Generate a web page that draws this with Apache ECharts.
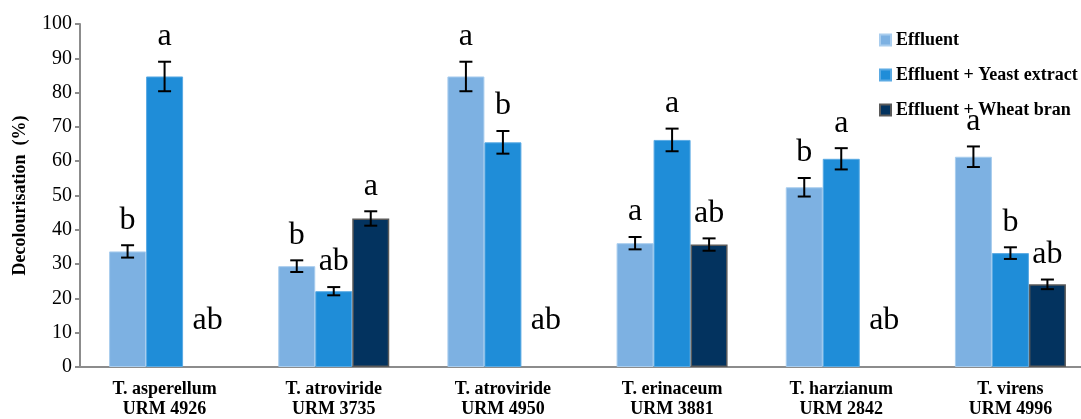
<!DOCTYPE html>
<html>
<head>
<meta charset="utf-8">
<script src="https://cdn.jsdelivr.net/npm/echarts@6/dist/echarts.min.js"></script>
<style>
  html, body { margin: 0; padding: 0; background: #fff; overflow: hidden; width: 1081px; height: 419px; }
  #chart { width: 1095px; height: 419px; }
</style>
</head>
<body>
<div id="chart"></div>
<script>
const categories = ['T. asperellum\nURM 4926', 'T. atroviride\nURM 3735', 'T. atroviride\nURM 4950', 'T. erinaceum\nURM 3881', 'T. harzianum\nURM 2842', 'T. virens\nURM 4996'];
const seriesNames = ['Effluent', 'Effluent + Yeast extract', 'Effluent + Wheat bran'];
const effluent = [33.7, 29.4, 84.7, 36.1, 52.4, 61.3];
const effluentErr = [1.8, 1.7, 4.3, 1.8, 2.7, 3.0];
const yeast = [84.7, 22.1, 65.5, 66.2, 60.7, 33.2];
const yeastErr = [4.3, 1.2, 3.3, 3.3, 3.1, 1.7];
const wheat = [null, 43.3, null, 35.7, null, 24.1];
const wheatErr = [0, 2.1, 0, 1.8, 0, 1.4];
const effluentLetters = ['b', 'b', 'a', 'a', 'b', 'a'];
const yeastLetters = ['a', 'ab', 'b', 'a', 'a', 'b'];
const wheatLetters = ['ab', 'a', 'ab', 'ab', 'ab', 'ab'];
const yTicks = [0, 10, 20, 30, 40, 50, 60, 70, 80, 90, 100];

const BAR_W = 37;
const SERIF = 'Liberation Serif, Times New Roman, serif';

function errSeries(name, values, errs, letters, slot) {
  return {
    name: name + ' err',
    type: 'custom',
    z: 10,
    silent: true,
    data: values.map((v, i) => [i, v == null ? 0 : v]),
    renderItem: function (params, api) {
      const i = params.dataIndex;
      const v = values[i];
      const base = api.coord([i, 0]);
      const cx = base[0] + slot * BAR_W;
      const children = [];
      let topY;
      if (v != null) {
        const hi = api.coord([i, v + errs[i]])[1];
        const lo = api.coord([i, v - errs[i]])[1];
        const cap = 6.5;
        const st = { stroke: '#000', lineWidth: 2 };
        children.push({ type: 'line', shape: { x1: cx, y1: hi, x2: cx, y2: lo }, style: st });
        children.push({ type: 'line', shape: { x1: cx - cap, y1: hi, x2: cx + cap, y2: hi }, style: st });
        children.push({ type: 'line', shape: { x1: cx - cap, y1: lo, x2: cx + cap, y2: lo }, style: st });
        topY = hi - 9;
      } else {
        topY = base[1] - 30;
      }
      children.push({
        type: 'text',
        style: {
          text: letters[i], x: cx + (v == null ? 6 : 0), y: topY,
          align: 'center', verticalAlign: 'bottom',
          fill: '#000', font: '32px ' + SERIF
        }
      });
      return { type: 'group', children: children };
    }
  };
}

const chart = echarts.init(document.getElementById('chart'), null, { renderer: 'canvas' });
chart.setOption({
  animation: false,
  backgroundColor: '#fff',
  grid: { left: 80, top: 24, right: 0, height: 344 },
  legend: {
    orient: 'vertical',
    left: 874,
    top: 26,
    itemWidth: 11,
    itemHeight: 11,
    itemGap: 17,
    icon: 'rect',
    data: seriesNames,
    textStyle: { fontFamily: SERIF, fontWeight: 'bold', fontSize: 18, color: '#000' }
  },
  xAxis: {
    type: 'category',
    data: categories,
    axisLine: { lineStyle: { color: '#8c8c8c', width: 2 } },
    axisTick: { show: false },
    axisLabel: {
      interval: 0, margin: 12, color: '#000',
      fontFamily: SERIF, fontWeight: 'bold', fontSize: 18, lineHeight: 20
    }
  },
  yAxis: {
    type: 'value',
    min: yTicks[0], max: yTicks[yTicks.length - 1], interval: 10,
    name: 'Decolourisation  (%)',
    nameLocation: 'middle',
    nameGap: 51,
    nameRotate: 90,
    nameTextStyle: { fontFamily: SERIF, fontWeight: 'bold', fontSize: 18, color: '#000' },
    axisLine: { show: true, lineStyle: { color: '#8c8c8c', width: 2 } },
    axisTick: { show: true, length: 5, lineStyle: { color: '#8c8c8c', width: 2 } },
    axisLabel: { margin: 8, color: '#000', fontFamily: SERIF, fontSize: 20 },
    splitLine: { show: false }
  },
  series: [
    {
      name: seriesNames[0], type: 'bar', barWidth: BAR_W, barGap: '0%',
      data: effluent,
      itemStyle: { color: '#7DB1E2', borderColor: '#A9CDEE', borderWidth: 1 }
    },
    {
      name: seriesNames[1], type: 'bar', barWidth: BAR_W, barGap: '0%',
      data: yeast,
      itemStyle: { color: '#1F8DD8', borderColor: '#5AAAE3', borderWidth: 1 }
    },
    {
      name: seriesNames[2], type: 'bar', barWidth: BAR_W, barGap: '0%',
      data: wheat.map(v => v == null ? '-' : v),
      itemStyle: { color: '#03335F', borderColor: '#5A5A5A', borderWidth: 1.5 }
    },
    errSeries(seriesNames[0], effluent, effluentErr, effluentLetters, -1),
    errSeries(seriesNames[1], yeast, yeastErr, yeastLetters, 0),
    errSeries(seriesNames[2], wheat, wheatErr, wheatLetters, 1)
  ]
});
</script>
</body>
</html>
